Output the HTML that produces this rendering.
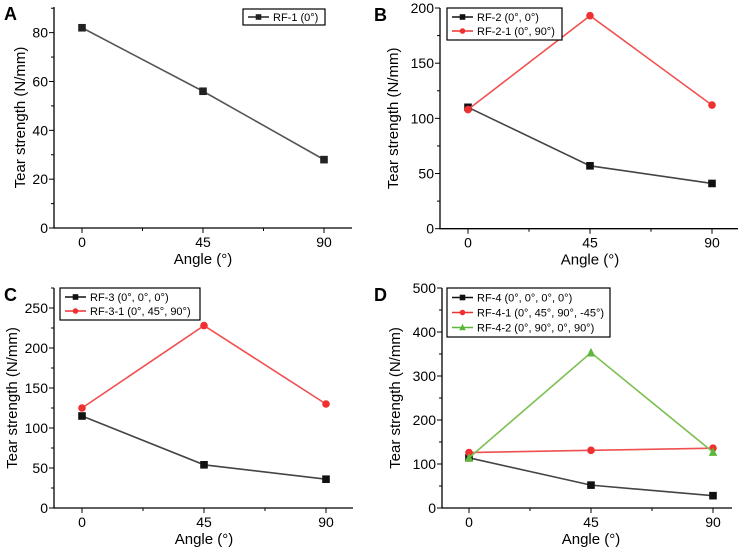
<!DOCTYPE html>
<html><head><meta charset="utf-8"><style>
body{margin:0;background:#fff;}
svg{display:block;font-family:"Liberation Sans",Arial,sans-serif;}
</style></head><body>
<svg id="fig" width="741" height="550"></svg>
<script>
const categories=[0,45,90];
const aRF1=[82,56,28];
const bRF2=[110,57,41];
const bRF21=[108,193,112];
const cRF3=[115,54,36];
const cRF31=[125,228,130];
const dRF4=[114,52,28];
const dRF41=[126,131,136];
const dRF42=[114,353,127];
const aTicks=[0,20,40,60,80];
const bTicks=[0,50,100,150,200];
const cTicks=[0,50,100,150,200,250];
const dTicks=[0,100,200,300,400,500];
const xTicks=[0,45,90];

const NS="http://www.w3.org/2000/svg";
const svg=document.getElementById('fig');
function mk(tag,attrs,parent){const e=document.createElementNS(NS,tag);for(const k in attrs)e.setAttribute(k,attrs[k]);(parent||svg).appendChild(e);return e;}

const panels=[
 {id:'a',letter:'A',L:54,R:352,B:228,T:7,x0:82,x90:324,ymax:90.5,ticks:aTicks,minor:10,tx:20,
  series:[{name:'RF-1 (0°)',data:aRF1,color:'#222',line:'#555',m:'sq'}],leg:[243,9,82,16]},
 {id:'b',letter:'B',L:440,R:738,B:228.7,T:8,x0:468,x90:712,ymax:200,ticks:bTicks,minor:25,tx:393,
  series:[{name:'RF-2 (0°, 0°)',data:bRF2,color:'#111',line:'#444',m:'sq'},{name:'RF-2-1 (0°, 90°)',data:bRF21,color:'#f03030',line:'#f05050',m:'ci'}],leg:[447,8,115,32]},
 {id:'c',letter:'C',L:54,R:353,B:508,T:288,x0:82,x90:326,ymax:275,ticks:cTicks,minor:25,tx:12,
  series:[{name:'RF-3 (0°, 0°, 0°)',data:cRF3,color:'#111',line:'#444',m:'sq'},{name:'RF-3-1 (0°, 45°, 90°)',data:cRF31,color:'#f03030',line:'#f05050',m:'ci'}],leg:[60,288,140,32]},
 {id:'d',letter:'D',L:442,R:732,B:508,T:288,x0:469,x90:713,ymax:500,ticks:dTicks,minor:50,tx:395,
  series:[{name:'RF-4 (0°, 0°, 0°, 0°)',data:dRF4,color:'#111',line:'#444',m:'sq'},{name:'RF-4-1 (0°, 45°, 90°, -45°)',data:dRF41,color:'#f03030',line:'#f05050',m:'ci'},{name:'RF-4-2 (0°, 90°, 0°, 90°)',data:dRF42,color:'#5cb83a',line:'#7cc050',m:'tr'}],leg:[447,288,163,49]}
];

function marker(g,m,x,y,c,s){
 if(m==='sq')mk('rect',{x:x-s,y:y-s,width:2*s,height:2*s,fill:c},g);
 else if(m==='ci')mk('circle',{cx:x,cy:y,r:s,fill:c},g);
 else mk('polygon',{points:`${x},${y-s-1} ${x-s-0.5},${y+s} ${x+s+0.5},${y+s}`,fill:c},g);
}

panels.forEach(p=>{
 const g=mk('g',{});
 
 
 const sx=v=>p.x0+(v-categories[0])/(categories[2]-categories[0])*(p.x90-p.x0);
 const sy=v=>p.B-v/p.ymax*(p.B-p.T);
 const lt=mk('text',{x:p.id==='a'||p.id==='c'?4:374,y:p.T+13,'font-size':18,'font-weight':'bold',fill:'#000'},g);
 lt.textContent=p.letter;
 
 
 const ax=mk('path',{d:`M${p.L},${p.T} V${p.B} H${p.R}`,stroke:'#000','stroke-width':1.3,fill:'none'},g);
 
 
 for(let v=0;v<=p.ymax+0.01;v+=p.minor){
  const major=p.ticks.indexOf(v)>=0;
  mk('line',{x1:p.L-(major?5:3),x2:p.L,y1:sy(v),y2:sy(v),stroke:'#000','stroke-width':1},g);
 }
 p.ticks.forEach(v=>{
  const t=mk('text',{x:p.L-6,y:sy(v)+5,'font-size':14,'text-anchor':'end',fill:'#000'},g);
  t.textContent=v;
  
  
 });
 [0,22.5,45,67.5,90].forEach(v=>{
  const major=xTicks.indexOf(v)>=0;
  mk('line',{x1:sx(v),x2:sx(v),y1:p.B,y2:p.B+(major?5:3),stroke:'#000','stroke-width':1},g);
 });
 xTicks.forEach(v=>{
  const t=mk('text',{x:sx(v),y:p.B+19,'font-size':14,'text-anchor':'middle',fill:'#000'},g);
  t.textContent=v;
  
  
 });
 const xt=mk('text',{x:(p.x0+p.x90)/2,y:p.B+36,'font-size':15,'text-anchor':'middle',fill:'#000'},g);
 xt.textContent='Angle (°)';
 
 
 const cy=(p.T+p.B)/2;
 const yt=mk('text',{x:p.tx+5,y:cy,'font-size':15,'text-anchor':'middle',fill:'#000',transform:`rotate(-90 ${p.tx+5} ${cy})`},g);
 yt.textContent='Tear strength (N/mm)';
 
 
 p.series.forEach((s,i)=>{
  const pts=s.data.map((v,j)=>sx(categories[j])+','+sy(v)).join(' ');
  const pl=mk('polyline',{points:pts,fill:'none',stroke:s.line,'stroke-width':1.6},g);
  
  
  s.data.forEach((v,j)=>marker(g,s.m,sx(categories[j]),sy(v),s.color,3.8));
 });
 const [lx,ly,lw,lh]=p.leg;
 const lg=mk('g',{},g);
 
 
 mk('rect',{x:lx,y:ly,width:lw,height:lh,fill:'#fff',stroke:'#000','stroke-width':1.2},lg);
 const rowH=p.series.length===1?lh:(lh-4)/p.series.length;
 p.series.forEach((s,i)=>{
  const yy=ly+(p.series.length===1?lh/2:2+rowH*(i+0.5));
  mk('line',{x1:lx+5,x2:lx+26,y1:yy,y2:yy,stroke:s.color,'stroke-width':1.6},lg);
  marker(lg,s.m,lx+15.5,yy,s.color,2.8);
  const t=mk('text',{x:lx+30,y:yy+4,'font-size':11,fill:'#000'},lg);
  t.textContent=s.name;
  
  
 });
});
</script>
</body></html>
